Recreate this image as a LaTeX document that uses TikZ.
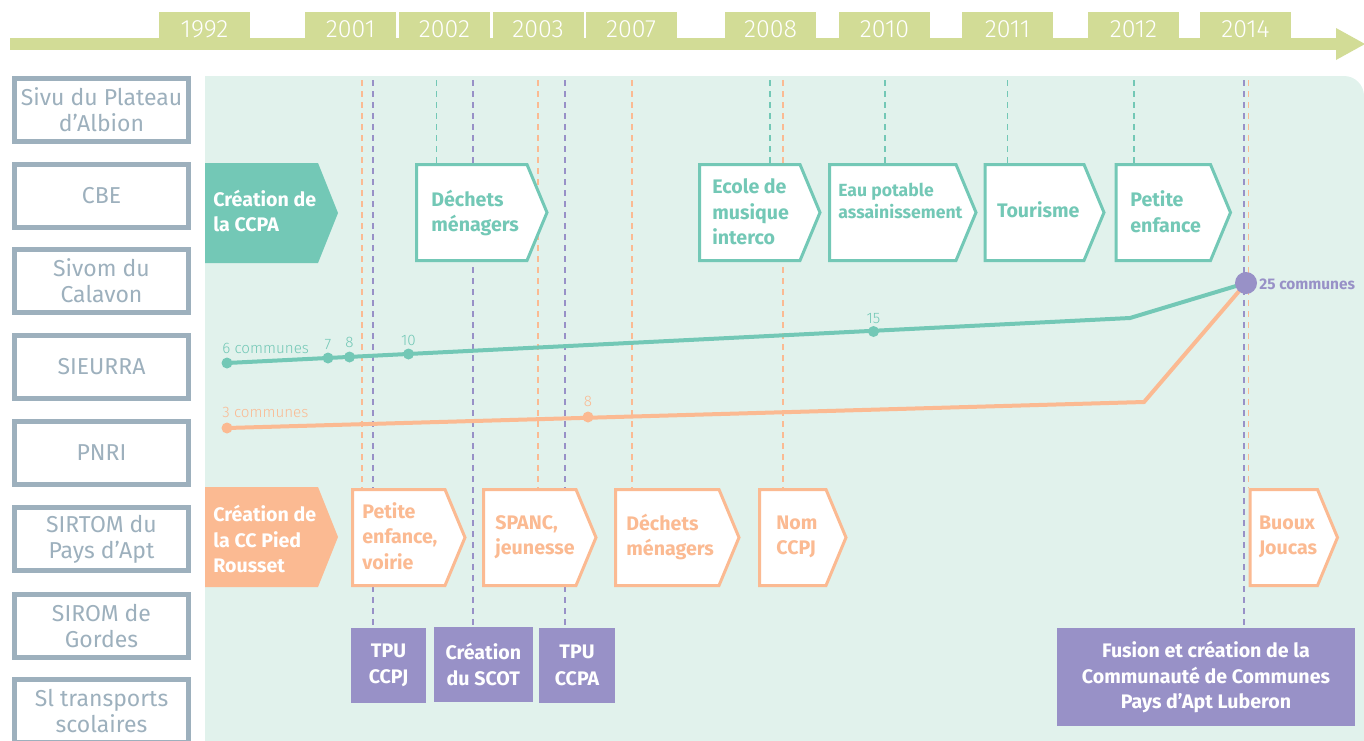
\documentclass[tikz,border=0pt]{standalone}
\usepackage{fontspec}
\setmainfont{Fira Sans}
\newfontfamily\lightfont{Fira Sans Light}
\definecolor{tlgreen}{RGB}{210,220,150}
\definecolor{ccteal}{RGB}{115,200,182}
\definecolor{ccorange}{RGB}{251,186,146}
\definecolor{ccpurple}{RGB}{152,145,199}
\definecolor{panel}{RGB}{225,242,236}
\definecolor{sidegray}{RGB}{157,176,189}
\tikzset{
	year/.style={fill=tlgreen, text=white, minimum width=45.5pt, minimum height=17.5pt, inner sep=0, font=\lightfont\fontsize{12.5}{14}\selectfont},
	sidebox/.style={draw=sidegray, line width=2.5pt, fill=white, minimum width=87pt, minimum height=31.5pt, inner sep=0, align=center, text=sidegray, font=\fontsize{11.5}{13}\selectfont},
	dteal/.style={ccteal, line width=0.75pt, dash pattern=on 3pt off 2.5pt},
	dorange/.style={ccorange, line width=0.75pt, dash pattern=on 3pt off 2.5pt},
	dpurple/.style={ccpurple, line width=0.75pt, dash pattern=on 3pt off 2.5pt},
	tchev/.style={draw=ccteal, line width=1.5pt, fill=white},
	ochev/.style={draw=ccorange, line width=1.5pt, fill=white},
	ttext/.style={anchor=west, align=left, inner sep=0, text=ccteal, font=\bfseries\fontsize{9.8}{12.8}\selectfont},
	otext/.style={anchor=west, align=left, inner sep=0, text=ccorange, font=\bfseries\fontsize{9.8}{12.8}\selectfont},
	pbox/.style={fill=ccpurple, text=white, align=center, inner sep=0, minimum height=37.5pt, font=\bfseries\fontsize{9.8}{13.3}\selectfont},
	tline/.style={ccteal, line width=2pt},
	oline/.style={ccorange, line width=2pt},
	tnum/.style={text=ccteal, inner sep=0, font=\lightfont\fontsize{7.6}{9}\selectfont},
	onum/.style={text=ccorange, inner sep=0, font=\lightfont\fontsize{7.6}{9}\selectfont}
}
\def\chevron[#1](#2,#3)(#4,#5){\draw[#1] (#2,#3) -- (#4,#3) -- (#4+20,#3/2+#5/2) -- (#4,#5) -- (#2,#5) -- cycle;}

\begin{document}
\begin{tikzpicture}[x=0.5pt,y=-0.5pt]
		\useasboundingbox (0,0) rectangle (1364,740);
		
		%%%%% TIMELINE %%%%%
		\fill[tlgreen] (10,38) rectangle (1337,50);
		\fill[tlgreen] (1336,28) -- (1365,44) -- (1336,60) -- cycle;
		\node[year] (y1992) at (204.5,29.5) {1992};
		\node[year] (y2001) at (350.5,29.5) {2001};
		\node[year] (y2002) at (444.5,29.5) {2002};
		\node[year] (y2003) at (538,29.5) {2003};
		\node[year] (y2007) at (631,29.5) {2007};
		\node[year] (y2008) at (770.5,29.5) {2008};
		\node[year] (y2010) at (884.5,29.5) {2010};
		\node[year] (y2011) at (1007.5,29.5) {2011};
		\node[year] (y2012) at (1133.5,29.5) {2012};
		\node[year] (y2014) at (1245.5,29.5) {2014};
		
		%%%%% LEFT COLUMN %%%%%
		\node[sidebox] (sivu) at (101.5,110) {Sivu du Plateau\\d’Albion};
		\node[sidebox] (cbe) at (101.5,196) {CBE};
		\node[sidebox] (sivom) at (101.5,281) {Sivom du\\Calavon};
		\node[sidebox] (sieurra) at (101.5,367) {SIEURRA};
		\node[sidebox] (pnri) at (101.5,453) {PNRI};
		\node[sidebox] (sirtom) at (101.5,539) {SIRTOM du\\Pays d’Apt};
		\node[sidebox] (sirom) at (101.5,626) {SIROM de\\Gordes};
		\node[sidebox] (sitrans) at (101.5,711) {Sl transports\\scolaires};
		
		%%%%% PANEL %%%%%
		\fill[panel] (205,745) -- (205,76) -- (1344,76) arc[start angle=90, end angle=0, radius=10pt] -- (1364,745) -- cycle;
		
		\draw[dorange] (362,80) -- (362,488);
		\draw[dpurple] (373,80) -- (373,628);
		\draw[dteal] (436.6,80) -- (436.6,163);
		\draw[dpurple] (473,80) -- (473,628);
		\draw[dorange] (538,80) -- (538,488);
		\draw[dpurple] (565,80) -- (565,628);
		\draw[dorange] (632,80) -- (632,488);
		\draw[dteal] (770,80) -- (770,163);
		\draw[dorange] (783,80) -- (783,488);
		\draw[dteal] (885,80) -- (885,163);
		\draw[dteal] (1007.5,80) -- (1007.5,163);
		\draw[dteal] (1134,80) -- (1134,163);
		\draw[dpurple] (1244,80) -- (1244,628);
		\draw[dorange] (1248.5,80) -- (1248.5,488);
		
		%%%%% COMMUNES %%%%%
		\coordinate (t6) at (227,363);
		\coordinate (t7) at (328,358);
		\coordinate (t8) at (349.5,357);
		\coordinate (t10) at (408.5,354);
		\coordinate (t15) at (873.5,331.5);
		\coordinate (tbend) at (1130,318);
		\coordinate (o3) at (227,428);
		\coordinate (o8) at (588,417);
		\coordinate (obend) at (1144,402);
		\coordinate (c25) at (1246,283);
		
		\draw[tline] (t6) -- (tbend) -- (c25);
		\draw[oline] (o3) -- (obend) -- (c25);
		\fill[ccteal] (t6) circle[radius=2.75pt];
		\fill[ccteal] (t7) circle[radius=2.75pt];
		\fill[ccteal] (t8) circle[radius=2.75pt];
		\fill[ccteal] (t10) circle[radius=2.75pt];
		\fill[ccteal] (t15) circle[radius=2.75pt];
		\fill[ccorange] (o3) circle[radius=2.75pt];
		\fill[ccorange] (o8) circle[radius=2.75pt];
		\fill[ccpurple] (c25) circle[radius=5.5pt];
		
		\node[tnum, anchor=base west] (l6) at (222,353) {6 communes};
		\node[tnum, anchor=base] (l7) at (328,349) {7};
		\node[tnum, anchor=base] (l8) at (349.5,347) {8};
		\node[tnum, anchor=base] (l10) at (408.5,345) {10};
		\node[tnum, anchor=base] (l15) at (873.5,323) {15};
		\node[onum, anchor=base west] (l3) at (222,417) {3 communes};
		\node[onum, anchor=base] (lo8) at (588,406) {8};
		\node[anchor=west, inner sep=0, text=ccpurple, font=\bfseries\fontsize{7.7}{9}\selectfont] (l25) at (1259,284) {25 communes};
		
		%%%%% CCPA ROW %%%%%
		\chevron[fill=ccteal, draw=none](205,163)(318,263);
		\node[ttext, text=white] (ccpa) at (213,211) {Création de\\la CCPA};
		\chevron[tchev](416.5,164.5)(527,260.5);
		\node[ttext] (dechetsa) at (431,213) {Déchets\\ménagers};
		\chevron[tchev](699.5,164.5)(800,260.5);
		\node[ttext] (ecole) at (712,212) {Ecole de\\musique\\interco};
		\chevron[tchev](829.5,164.5)(956,260.5);
		\node[ttext, font=\bfseries\fontsize{8.8}{11}\selectfont] (eau) at (838,200.5) {Eau potable\\assainissement};
		\chevron[tchev](985,164.5)(1084,260.5);
		\node[ttext] (tourisme) at (996.6,210) {Tourisme};
		\chevron[tchev](1116,164.5)(1210.5,260.5);
		\node[ttext] (petitea) at (1130,212) {Petite\\enfance};
		
		%%%%% CCPJ ROW %%%%%
		\chevron[fill=ccorange, draw=none](205,487)(318,587);
		\node[otext, text=white] (pied) at (213,539) {Création de\\la CC Pied\\Rousset};
		\chevron[ochev](352.5,489.5)(445,585.5);
		\node[otext] (petiteb) at (362,536) {Petite\\enfance,\\voirie};
		\chevron[ochev](483.5,489.5)(576,585.5);
		\node[otext] (spanc) at (495,537) {SPANC,\\jeunesse};
		\chevron[ochev](615.5,489.5)(719,585.5);
		\node[otext] (dechetsb) at (626,537) {Déchets\\ménagers};
		\chevron[ochev](759.5,489.5)(826,585.5);
		\node[otext] (nom) at (776,537) {Nom\\CCPJ};
		\chevron[ochev](1250,489.5)(1317.5,585.5);
		\node[otext] (buoux) at (1258.6,537) {Buoux\\Joucas};
		
		%%%%% FISCAL %%%%%
		\node[pbox, minimum width=37.5pt] (tpuccpj) at (388.5,665.5) {TPU\\CCPJ};
		\node[pbox, minimum width=49.3pt] (scot) at (483.3,664.5) {Création\\du SCOT};
		\node[pbox, minimum width=38pt] (tpuccpa) at (577,665.5) {TPU\\CCPA};
		\node[pbox, minimum width=149pt, minimum height=49pt, font=\bfseries\fontsize{9.8}{12.8}\selectfont] (fusion) at (1206,677) {Fusion et création de la\\Communauté de Communes\\Pays d’Apt Luberon};
		
\end{tikzpicture}
\end{document}
